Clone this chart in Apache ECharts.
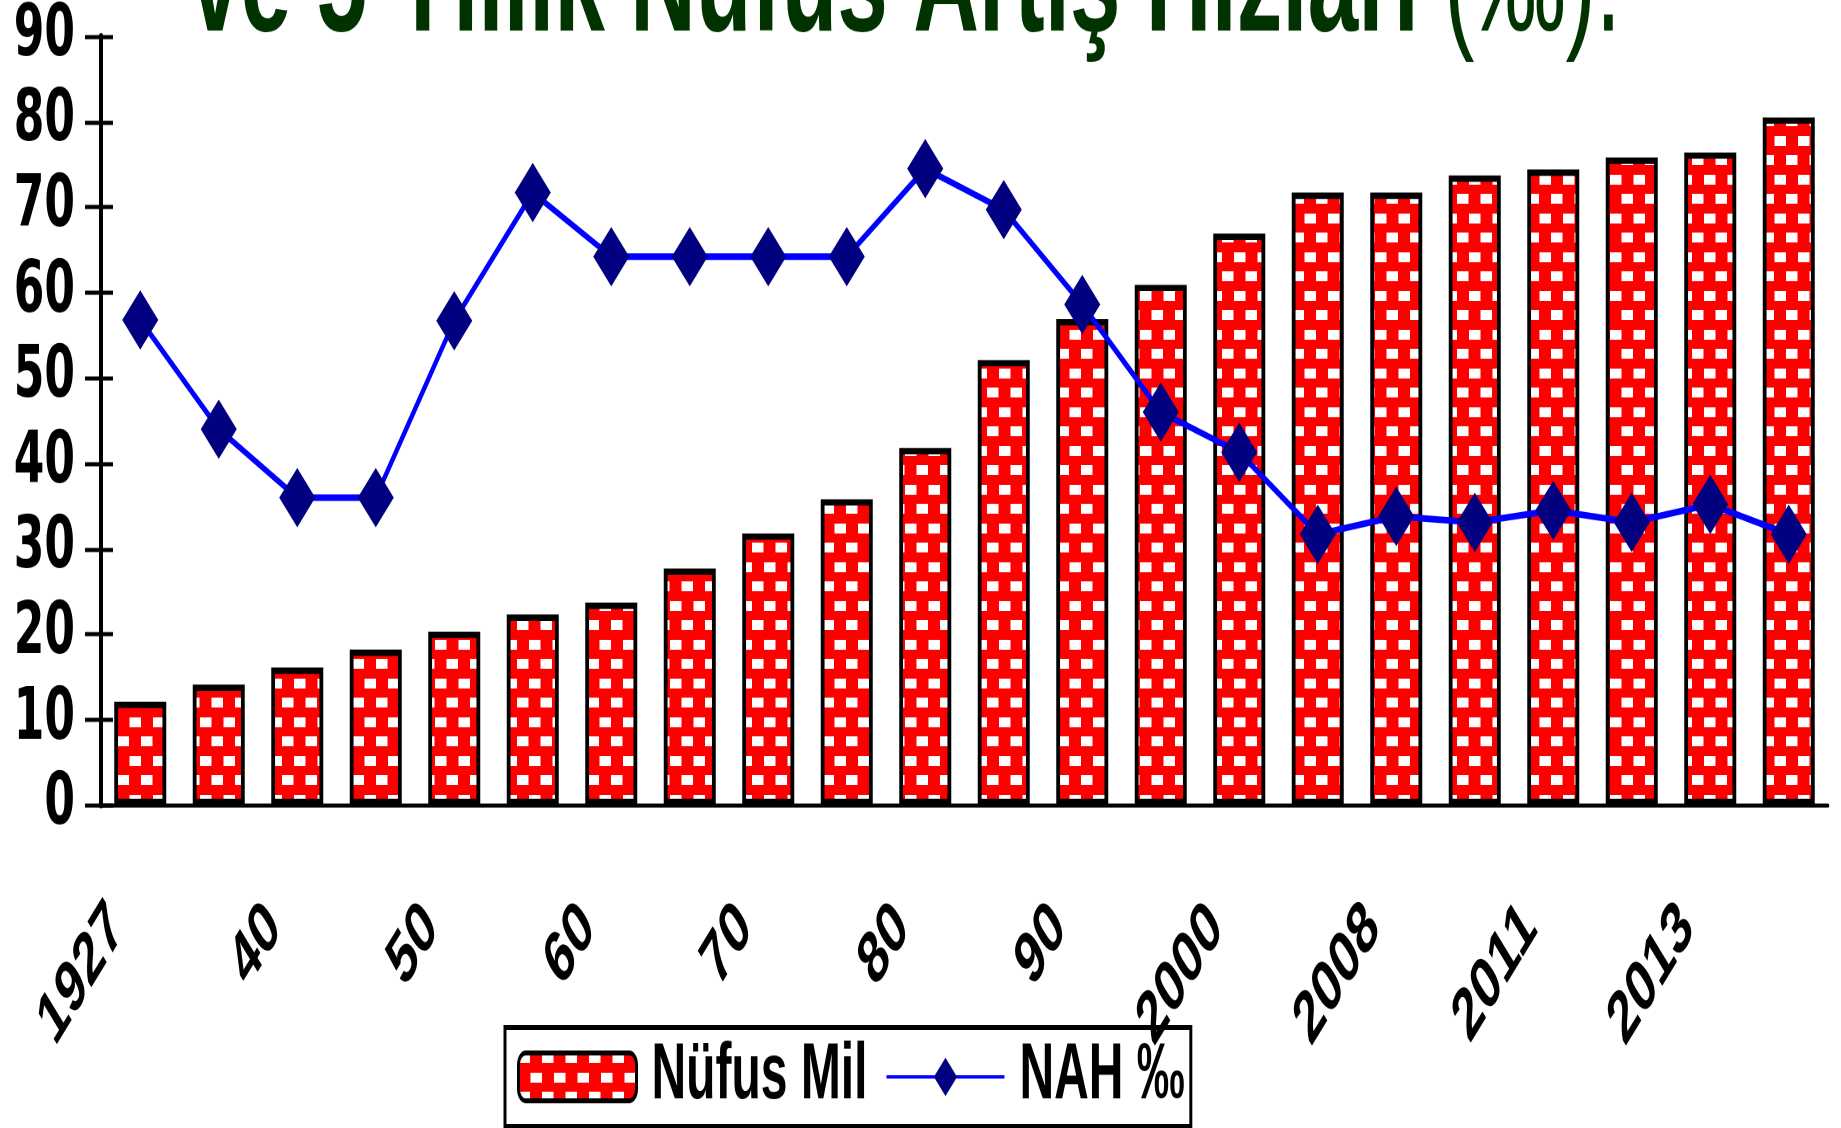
<!DOCTYPE html>
<html>
<head>
<meta charset="utf-8">
<script src="https://cdn.jsdelivr.net/npm/echarts@6/dist/echarts.min.js"></script>
<style>
  html, body { margin: 0; padding: 0; background: #fff; }
  body { width: 1841px; height: 1128px; overflow: visible; }
  /* the original picture is stretched vertically, so the chart is drawn flat and stretched */
  #chart { width: 1841px; height: 684px; transform: scaleY(1.6491); transform-origin: 0 0; }
</style>
</head>
<body>
<div id="chart"></div>
<script>
var years = ['1927', '35', '40', '45', '50', '55', '60', '65', '70', '75', '80',
  '85', '90', '97', '2000', '2007', '2008', '2010', '2011', '2012', '2013', '2017'];
var nufusMil = [12.1, 14.1, 16.1, 18.2, 20.3, 22.3, 23.7, 27.7, 31.8, 35.8, 41.8,
  52.1, 56.9, 60.9, 66.9, 71.7, 71.7, 73.7, 74.4, 75.8, 76.4, 80.5];
var nahBinde = [56.8, 44.0, 36.0, 36.0, 56.7, 71.7, 64.2, 64.2, 64.2, 64.2, 74.5,
  69.7, 58.6, 46.0, 41.3, 31.7, 33.8, 33.1, 34.5, 33.1, 35.2, 31.7];
var yTicks = [0, 90, 10];

var FONT = 'Liberation Sans';
var WIDE = 'DejaVu Sans';

// red / white brick pattern of the bars (drawn at 2x, scaled down)
function brickTile() {
  var c = document.createElement('canvas');
  c.width = 47; c.height = 47;
  var g = c.getContext('2d');
  g.fillStyle = '#ff0000';
  g.fillRect(0, 0, 47, 47);
  g.fillStyle = '#ffffff';
  g.fillRect(0, 0, 23, 12);
  g.fillRect(24, 24, 23, 12);
  return c;
}
var brick = { image: brickTile(), repeat: 'repeat', scaleX: 0.5, scaleY: 0.5 };

var myChart = echarts.init(document.getElementById('chart'), null, { devicePixelRatio: 2 });

var option = {
  animation: false,
  backgroundColor: '#fff',
  textStyle: { fontFamily: FONT },
  title: {
    text: '{b|ve 5 Yıllık Nüfus Artış Hızları}{n| (‰).}',
    left: 190,
    top: -52,
    padding: 0,
    textStyle: {
      rich: {
        b: { fontFamily: FONT, fontWeight: 'bold', fontSize: 91, color: '#003300' },
        n: { fontFamily: FONT, fontWeight: 'normal', fontSize: 91, color: '#003300' }
      }
    }
  },
  legend: {
    left: 505,
    top: 623,
    padding: [6, 6, 6, 12],
    itemWidth: 118,
    itemHeight: 29,
    itemGap: 18,
    borderColor: '#000',
    borderWidth: 3,
    textStyle: { fontFamily: FONT, fontWeight: 'bold', fontSize: 48, color: '#000', padding: [0, 0, 0, 10] },
    data: [
      { name: 'Nüfus Mil', icon: 'roundRect', itemStyle: { borderColor: '#000', borderWidth: 3 } },
      { name: 'NAH ‰' }
    ]
  },
  grid: { left: 101, right: 13, top: 20, bottom: 195.8 },
  xAxis: [
    {
      type: 'category',
      data: years,
      axisLine: { lineStyle: { color: '#000', width: 2.5 } },
      axisTick: { length: 15.8, lineStyle: { color: '#000', width: 3 } },
      axisLabel: {
        interval: 1,
        rotate: 45,
        margin: 44,
        padding: [0, 33, 65, 0],
        fontFamily: FONT, fontWeight: 'bold', fontSize: 45, color: '#000'
      }
    },
    {
      type: 'category',
      position: 'bottom',
      data: years,
      axisLine: { show: false },
      axisTick: { inside: true, length: 12, lineStyle: { color: '#000', width: 3 } },
      axisLabel: { show: false }
    }
  ],
  yAxis: [
    {
      type: 'value',
      min: yTicks[0], max: yTicks[1], interval: yTicks[2],
      splitLine: { show: false },
      axisLine: { show: true, lineStyle: { color: '#000', width: 4 } },
      axisTick: { show: true, length: 16, lineStyle: { color: '#000', width: 2.5 } },
      axisLabel: { margin: 26, fontFamily: WIDE, fontWeight: 'bold', fontSize: 44, color: '#000' }
    },
    {
      type: 'value',
      position: 'left',
      min: yTicks[0], max: yTicks[1], interval: yTicks[2],
      splitLine: { show: false },
      axisLine: { show: false },
      axisTick: { show: true, inside: true, length: 12, lineStyle: { color: '#000', width: 2.5 } },
      axisLabel: { show: false }
    }
  ],
  series: [
    {
      name: 'Nüfus Mil',
      type: 'bar',
      data: nufusMil,
      barWidth: 52,
      itemStyle: { color: brick, borderColor: '#000', borderWidth: 3.8 }
    },
    {
      name: 'NAH ‰',
      type: 'line',
      data: nahBinde,
      symbol: 'diamond',
      symbolSize: 36,
      z: 5,
      itemStyle: { color: '#000080' },
      lineStyle: { color: '#0000ff', width: 4 }
    }
  ]
};

myChart.setOption(option);
</script>
</body>
</html>
